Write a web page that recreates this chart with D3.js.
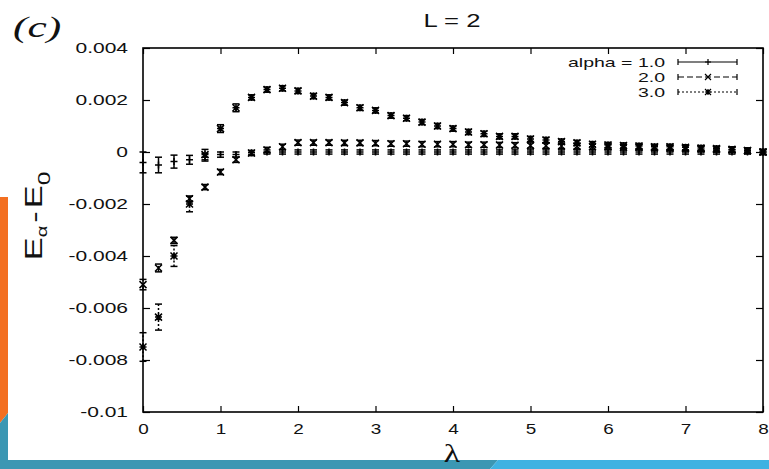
<!DOCTYPE html>
<html>
<head>
<meta charset="utf-8">
<script src="https://cdn.jsdelivr.net/npm/d3@7/dist/d3.min.js"></script>
<style>
  html, body { margin: 0; padding: 0; background: #fff; }
  svg { display: block; }
</style>
</head>
<body>
<svg id="chart" width="769" height="469"></svg>
<script>
// Coupling strength lambda
const lambdas = [0.0, 0.2, 0.4, 0.6, 0.8, 1.0, 1.2, 1.4, 1.6, 1.8,
                 2.0, 2.2, 2.4, 2.6, 2.8, 3.0, 3.2, 3.4, 3.6, 3.8,
                 4.0, 4.2, 4.4, 4.6, 4.8, 5.0, 5.2, 5.4, 5.6, 5.8,
                 6.0, 6.2, 6.4, 6.6, 6.8, 7.0, 7.2, 7.4, 7.6, 7.8, 8.0];

// E_alpha - E_0 for alpha = 1.0
const alpha1 = [-0.0004, -0.0005, -0.00037, -0.0003, -0.0002, -0.0001, -0.0001, -0.00003, 0, 0,
                0, 0, 0, 0, 0, 0, 0, 0, 0, 0,
                0, 0, 0, 0, 0, 0, 0, 0, 0, 0,
                0, 0, 0, 0, 0, 0, 0, 0, 0, 0, 0];
const alpha1Err = [0.0004, 0.0003, 0.00025, 0.00017, 0.00015, 0.0001, 0.0001, 0.00008, 0.00008, 0.00008,
                   0.00008, 0.00008, 0.00008, 0.00008, 0.00008, 0.00008, 0.00008, 0.00008, 0.00008, 0.00008,
                   0.00008, 0.00008, 0.00008, 0.00008, 0.00008, 0.00008, 0.00008, 0.00008, 0.00008, 0.00008,
                   0.00008, 0.00008, 0.00008, 0.00008, 0.00008, 0.00008, 0.00008, 0.00008, 0.00008, 0.00008, 0.00008];

// E_alpha - E_0 for alpha = 2.0
const alpha2 = [-0.0051, -0.00446, -0.0034, -0.0018, -0.00135, -0.00077, -0.0003, -0.00004, 0.00008, 0.0002,
                0.00036, 0.00036, 0.00036, 0.00035, 0.00035, 0.00034, 0.00032, 0.00032, 0.0003, 0.0003,
                0.0003, 0.00028, 0.00028, 0.00027, 0.00026, 0.00025, 0.00024, 0.00023, 0.00022, 0.0002,
                0.0002, 0.00018, 0.00018, 0.00016, 0.00015, 0.00014, 0.00012, 0.0001, 0.00008, 0.00006, 0];
const alpha2Err = [0.0002, 0.00015, 0.00012, 0.0001, 0.0001, 0.0001, 0.0001, 0.0001, 0.0001, 0.0001,
                   0.0001, 0.0001, 0.0001, 0.0001, 0.0001, 0.0001, 0.0001, 0.0001, 0.0001, 0.0001,
                   0.0001, 0.0001, 0.0001, 0.0001, 0.0001, 0.0001, 0.0001, 0.0001, 0.0001, 0.0001,
                   0.0001, 0.0001, 0.0001, 0.0001, 0.0001, 0.0001, 0.0001, 0.0001, 0.0001, 0.0001, 0.0001];

// E_alpha - E_0 for alpha = 3.0
const alpha3 = [-0.0075, -0.00635, -0.0040, -0.0020, -0.0001, 0.0009, 0.0017, 0.0021, 0.0024, 0.00245,
                0.00235, 0.00215, 0.0021, 0.0019, 0.0017, 0.0016, 0.0014, 0.0013, 0.00115, 0.0010,
                0.0009, 0.00077, 0.0007, 0.0006, 0.0006, 0.0005, 0.00046, 0.0004, 0.00035, 0.0003,
                0.00027, 0.00025, 0.00023, 0.0002, 0.0002, 0.00018, 0.00015, 0.00013, 0.0001, 0.00005, 0];
const alpha3Err = [0.00055, 0.0005, 0.0004, 0.0003, 0.0002, 0.00015, 0.00015, 0.0001, 0.0001, 0.0001,
                   0.0001, 0.0001, 0.0001, 0.0001, 0.0001, 0.0001, 0.0001, 0.0001, 0.0001, 0.0001,
                   0.0001, 0.0001, 0.0001, 0.0001, 0.0001, 0.0001, 0.0001, 0.0001, 0.0001, 0.0001,
                   0.0001, 0.0001, 0.0001, 0.0001, 0.0001, 0.0001, 0.0001, 0.0001, 0.0001, 0.0001, 0.0001];

const seriesNames = ["alpha = 1.0", "2.0", "3.0"];
const xTicks = [0, 1, 2, 3, 4, 5, 6, 7, 8];
const xTickLabels = ["0", "1", "2", "3", "4", "5", "6", "7", "8"];
const yTicks = [-0.01, -0.008, -0.006, -0.004, -0.002, 0, 0.002, 0.004];
const yTickLabels = ["-0.01", "-0.008", "-0.006", "-0.004", "-0.002", "0", "0.002", "0.004"];

const svg = d3.select("#chart");
const W = 769, H = 469;
const plotLeft = 143, plotRight = 763, plotTop = 48, plotBottom = 412;
const textStretch = 1.5;
const sansFont = "'Liberation Sans', Arial, sans-serif";
const serifFont = "'Liberation Serif', 'Times New Roman', serif";

// Slide frame decoration
svg.append("rect").attr("x", 0).attr("y", 0).attr("width", W).attr("height", H).attr("fill", "#fff");
svg.append("polygon").attr("points", "0,197 8,197 8,413 0,423").attr("fill", "#f36f21");
svg.append("polygon").attr("points", "0,423 8,413 8,460 0,460").attr("fill", "#3b97b3");
svg.append("polygon").attr("points", `0,460 498,460 490,${H} 0,${H}`).attr("fill", "#3b97b3");
svg.append("polygon").attr("points", `498,460 ${W},460 ${W},${H} 490,${H}`).attr("fill", "#3fb2e2");

const x = d3.scaleLinear().domain([0, 8]).range([plotLeft, plotRight]);
const y = d3.scaleLinear().domain([-0.01, 0.004]).range([plotBottom, plotTop]);

// Axes with inward ticks
const gx = svg.append("g").attr("transform", `translate(0,${plotBottom})`)
  .call(d3.axisBottom(x).tickValues(xTicks).tickFormat((d, i) => xTickLabels[i])
    .tickSize(-6).tickPadding(12));
gx.selectAll(".tick text").attr("transform", `scale(1.35,1)`);

const gy = svg.append("g").attr("transform", `translate(${plotLeft},0)`)
  .call(d3.axisLeft(y).tickValues(yTicks).tickFormat((d, i) => yTickLabels[i])
    .tickSize(-7).tickPadding(15));
gy.selectAll(".tick text")
  .attr("x", 0)
  .attr("transform", `translate(-15,0) scale(${textStretch},1)`);

const gxTop = svg.append("g").attr("transform", `translate(0,${plotTop})`)
  .call(d3.axisTop(x).tickValues(xTicks).tickFormat("").tickSize(-6));
const gyRight = svg.append("g").attr("transform", `translate(${plotRight},0)`)
  .call(d3.axisRight(y).tickValues(yTicks).tickFormat("").tickSize(-7));

[gx, gy, gxTop, gyRight].forEach(g => {
  g.select(".domain").remove();
  g.selectAll(".tick line").attr("stroke", "#000").attr("stroke-width", 1.2);
  g.selectAll(".tick text").attr("fill", "#111").style("font-family", sansFont).style("font-size", "14px");
});

// Plot border
svg.append("rect").attr("x", plotLeft).attr("y", plotTop)
  .attr("width", plotRight - plotLeft).attr("height", plotBottom - plotTop)
  .attr("fill", "none").attr("stroke", "#000").attr("stroke-width", 1.6);

// Point symbols
const sym = {
  plus: s => `M${-s},0H${s}M0,${-s}V${s}`,
  cross: s => `M${-s},${-s}L${s},${s}M${-s},${s}L${s},${-s}`,
  star: s => `M${-s},0H${s}M0,${-s}V${s}M${-s},${-s}L${s},${s}M${-s},${s}L${s},${-s}`
};

const series = [
  { name: seriesNames[0], values: alpha1, errs: alpha1Err, symbol: sym.plus, dash: null },
  { name: seriesNames[1], values: alpha2, errs: alpha2Err, symbol: sym.cross, dash: "6,3" },
  { name: seriesNames[2], values: alpha3, errs: alpha3Err, symbol: sym.star, dash: "2,2" }
];

const cap = 3.5;
const plot = svg.append("g").attr("stroke", "#000").attr("stroke-width", 1.5).attr("fill", "none");

series.forEach(s => {
  const g = plot.append("g");
  const pts = lambdas.map((l, i) => ({ l, v: s.values[i], e: s.errs[i] }));
  const pt = g.selectAll("g.pt").data(pts).join("g").attr("class", "pt")
    .attr("transform", d => `translate(${x(d.l)},0)`);
  pt.append("line")
    .attr("y1", d => y(d.v - d.e)).attr("y2", d => y(d.v + d.e))
    .attr("stroke-dasharray", s.dash);
  pt.append("line").attr("x1", -cap).attr("x2", cap)
    .attr("y1", d => y(d.v - d.e)).attr("y2", d => y(d.v - d.e));
  pt.append("line").attr("x1", -cap).attr("x2", cap)
    .attr("y1", d => y(d.v + d.e)).attr("y2", d => y(d.v + d.e));
  pt.append("path").attr("d", s.symbol(3.5))
    .attr("transform", d => `translate(0,${y(d.v)})`);
});

// Legend
const legendRows = [62, 77, 92];
const lx0 = 678, lx1 = 737, lxm = 708;
series.forEach((s, i) => {
  const ly = legendRows[i];
  svg.append("text")
    .attr("transform", `translate(665,${ly}) scale(${textStretch},1)`)
    .attr("dy", "0.35em").attr("text-anchor", "end")
    .style("font-family", sansFont).style("font-size", "13px").attr("fill", "#111")
    .text(s.name);
  const lg = svg.append("g").attr("stroke", "#000").attr("stroke-width", 1.2).attr("fill", "none");
  lg.append("line").attr("x1", lx0).attr("x2", lx1).attr("y1", ly).attr("y2", ly)
    .attr("stroke-dasharray", s.dash);
  lg.append("line").attr("x1", lx0).attr("x2", lx0).attr("y1", ly - 3).attr("y2", ly + 3);
  lg.append("line").attr("x1", lx1).attr("x2", lx1).attr("y1", ly - 3).attr("y2", ly + 3);
  lg.append("path").attr("d", s.symbol(3)).attr("transform", `translate(${lxm},${ly})`);
});

// Title and panel tag
svg.append("text")
  .attr("transform", `translate(452,27) scale(1.35,1)`)
  .attr("text-anchor", "middle")
  .style("font-family", sansFont).style("font-size", "19px").attr("fill", "#111")
  .text("L = 2");

svg.append("text")
  .attr("transform", `translate(13,37) scale(${textStretch},1)`)
  .style("font-family", serifFont).style("font-style", "italic").style("font-size", "29px")
  .attr("fill", "#111")
  .text("(c)");

// Axis titles
svg.append("text")
  .attr("transform", `translate(452,462) scale(1.3,1)`)
  .attr("text-anchor", "middle")
  .style("font-family", serifFont).style("font-size", "26px").attr("fill", "#111")
  .text("λ");

const yl = svg.append("text")
  .attr("transform", `translate(42,216) rotate(-90) scale(1.44,1)`)
  .attr("text-anchor", "middle")
  .style("font-family", sansFont).style("font-size", "24px").attr("fill", "#111");
yl.append("tspan").text("E");
yl.append("tspan").attr("dy", 5).style("font-size", "14px").text("α");
yl.append("tspan").attr("dy", -5).attr("dx", 2).text("-");
yl.append("tspan").attr("dx", 2).text("E");
yl.append("tspan").attr("dy", 8).style("font-size", "17px").text("0");
</script>
</body>
</html>
